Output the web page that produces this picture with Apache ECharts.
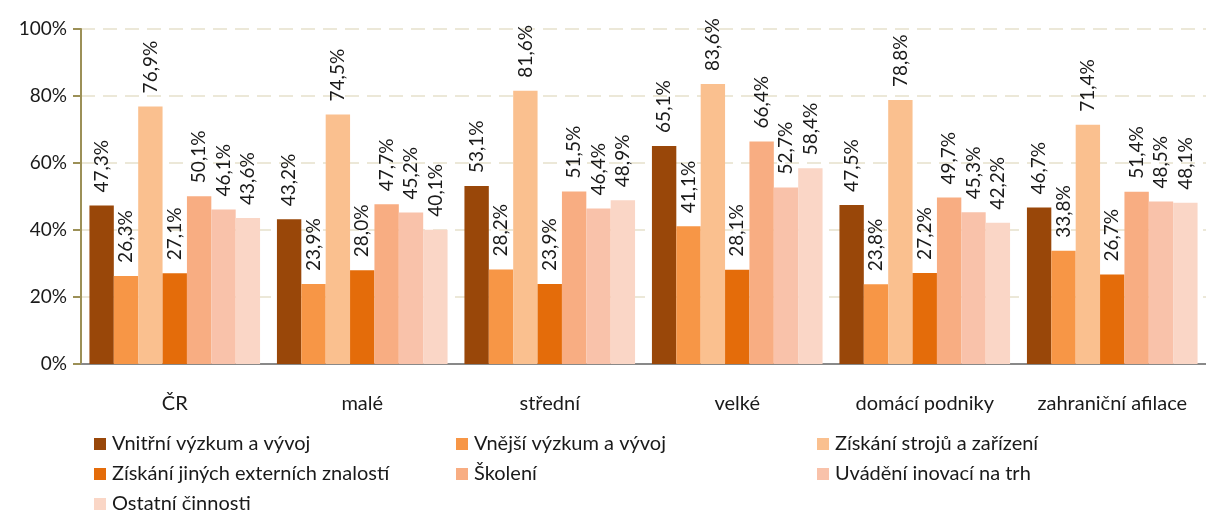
<!DOCTYPE html>
<html>
<head>
<meta charset="utf-8">
<script src="https://cdn.jsdelivr.net/npm/echarts@6/dist/echarts.min.js"></script>
<style>
  html, body { margin: 0; padding: 0; background: #fff; }
  #c_container { width: 1206px; height: 511px; }
</style>
</head>
<body>
<div id="c_container"></div>
<script>
var categories = ["ČR", "malé", "střední", "velké", "domácí podniky", "zahraniční afilace"];
var seriesNames = [
  "Vnitřní výzkum a vývoj",
  "Vnější výzkum a vývoj",
  "Získání strojů a zařízení",
  "Získání jiných externích znalostí",
  "Školení",
  "Uvádění inovací na trh",
  "Ostatní činnosti"
];
var vnitrniVyzkum = [47.3, 43.2, 53.1, 65.1, 47.5, 46.7];
var vnejsiVyzkum = [26.3, 23.9, 28.2, 41.1, 23.8, 33.8];
var ziskaniStroju = [76.9, 74.5, 81.6, 83.6, 78.8, 71.4];
var jineZnalosti = [27.1, 28.0, 23.9, 28.1, 27.2, 26.7];
var skoleni = [50.1, 47.7, 51.5, 66.4, 49.7, 51.4];
var uvadeniNaTrh = [46.1, 45.2, 46.4, 52.7, 45.3, 48.5];
var ostatni = [43.6, 40.1, 48.9, 58.4, 42.2, 48.1];
var yTicks = [0, 20, 40, 60, 80, 100];

var colorList = ["#994709", "#f79646", "#fac08f", "#e46c0a", "#f8ad82", "#f9c2aa", "#fad6c6"];
var font = "Lato, 'Noto Sans', sans-serif";
var textColor = "#1a1a1a";

var seriesData = [vnitrniVyzkum, vnejsiVyzkum, ziskaniStroju, jineZnalosti, skoleni, uvadeniNaTrh, ostatni];

// legend placement: 3 columns x 3 rows
var legendLeft = [94, 456, 817];
var legendTop = [434, 464, 494];

var myChart = echarts.init(document.getElementById("c_container"));

var series = [];
var legends = [];
for (var k = 0; k < seriesData.length; k++) {
  series.push({
    name: seriesNames[k],
    type: "bar",
    data: seriesData[k],
    barGap: "0%",
    barCategoryGap: "9%",
    itemStyle: { color: colorList[k] },
    label: {
      show: true,
      position: "top",
      rotate: 90,
      align: "left",
      verticalAlign: "middle",
      distance: 13,
      color: textColor,
      fontFamily: font,
      fontSize: 19,
      formatter: function (p) {
        return p.value.toFixed(1).replace(".", ",") + "%";
      }
    }
  });
  legends.push({
    left: legendLeft[k % 3],
    top: legendTop[Math.floor(k / 3)],
    padding: 0,
    itemWidth: 12,
    itemHeight: 12,
    itemGap: 0,
    icon: "rect",
    data: [seriesNames[k]],
    textStyle: { color: textColor, fontFamily: font, fontSize: 20, padding: [0, 0, 0, 1] }
  });
}

myChart.setOption({
  animation: false,
  color: colorList,
  grid: { left: 81, right: 0, top: 29, bottom: 147, containLabel: false },
  legend: legends,
  xAxis: {
    type: "category",
    data: categories,
    axisLine: { show: true, lineStyle: { color: "#898989", width: 2 } },
    axisTick: { show: false },
    axisLabel: { interval: 0, color: textColor, fontFamily: font, fontSize: 20, margin: 30 }
  },
  yAxis: {
    type: "value",
    min: yTicks[0],
    max: yTicks[yTicks.length - 1],
    interval: 20,
    axisLine: { show: true, lineStyle: { color: "#9c9057", width: 2 } },
    axisTick: { show: true, length: 8, lineStyle: { color: "#9c9057", width: 2 } },
    splitLine: { show: true, lineStyle: { color: "#ece8d8", width: 2, type: [14, 8] } },
    axisLabel: {
      color: textColor,
      fontFamily: font,
      fontSize: 19,
      margin: 14,
      formatter: function (v) { return v + "%"; }
    }
  },
  series: series
});
</script>
</body>
</html>
